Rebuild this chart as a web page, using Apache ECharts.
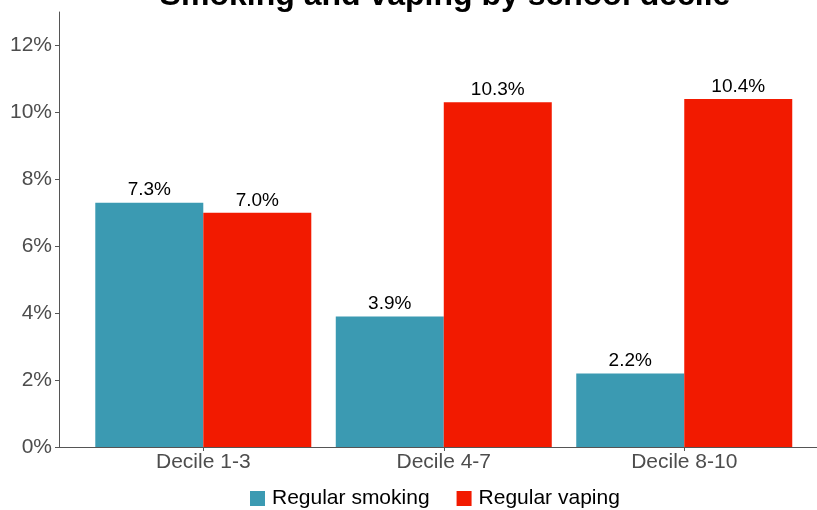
<!DOCTYPE html>
<html lang="en">
<head>
    <meta charset="UTF-8">
    <title>Smoking and vaping by school decile</title>
    <style>
        body{ margin:0; background:#fff; }
    </style>
</head>
<body>
    <div id="main" style="width: 817px;height:510px;"></div>
    <script src="https://cdn.jsdelivr.net/npm/echarts@6/dist/echarts.min.js"></script>
    <script>
    var categories = ['Decile 1-3', 'Decile 4-7', 'Decile 8-10'];
    var smoking = [7.3, 3.9, 2.2];
    var vaping = [7.0, 10.3, 10.4];
    var yTicks = [0, 2, 4, 6, 8, 10, 12];
    var catPos = [1, 2, 3];

    var myChart = echarts.init(document.getElementById('main'));
    var font = 'Liberation Sans, Arial, sans-serif';

    function pairs(vals){
        return vals.map(function(v, i){ return [catPos[i], v]; });
    }

    var labelStyle = {
        show: true,
        position: 'top',
        distance: 3,
        color: '#000',
        fontSize: 19,
        fontFamily: font,
        formatter: function(p){ return p.value[1].toFixed(1) + '%'; }
    };

    option = {
        animation: false,
        title: {
            text: 'Smoking and vaping by school decile',
            left: 440,
            textAlign: 'center',
            top: -25,
            textStyle: { fontSize: 32, fontWeight: 'bold', color: '#000', fontFamily: font }
        },
        legend: {
            data: ['Regular smoking', 'Regular vaping'],
            bottom: 1,
            left: 250,
            padding: 0,
            icon: 'rect',
            itemWidth: 15,
            itemHeight: 15,
            itemGap: 27,
            textStyle: { fontSize: 21, color: '#000', fontFamily: font, padding: [0, 0, 0, 2] }
        },
        grid: { left: 59, right: 0, top: 12, bottom: 63 },
        xAxis: {
            type: 'value',
            // ggplot-style 0.6 padding on the left; right side is cut off by the canvas edge
            min: 0.4,
            max: 3.552,
            splitLine: { show: false },
            axisLine: { show: true, lineStyle: { color: '#555', width: 1 } },
            axisTick: { show: true, length: 4, customValues: catPos, lineStyle: { color: '#555' } },
            axisLabel: {
                customValues: catPos,
                fontSize: 21,
                color: '#4d4d4d',
                fontFamily: font,
                margin: 5,
                formatter: function(v){ return categories[Math.round(v) - 1]; }
            }
        },
        yAxis: {
            type: 'value',
            min: 0,
            max: 13,
            splitLine: { show: false },
            axisLine: { show: true, lineStyle: { color: '#555', width: 1 } },
            axisTick: { show: true, length: 4, customValues: yTicks, lineStyle: { color: '#555' } },
            axisLabel: {
                customValues: yTicks,
                fontSize: 21,
                color: '#4d4d4d',
                fontFamily: font,
                margin: 7,
                formatter: '{value}%'
            }
        },
        series: [
            {
                name: 'Regular smoking',
                type: 'bar',
                barWidth: 108,
                barGap: '0%',
                itemStyle: { color: '#3B9AB2' },
                label: labelStyle,
                data: pairs(smoking)
            },
            {
                name: 'Regular vaping',
                type: 'bar',
                barWidth: 108,
                barGap: '0%',
                itemStyle: { color: '#F21A00' },
                label: labelStyle,
                data: pairs(vaping)
            }
        ]
    };
    myChart.setOption(option);
    </script>
</body>
</html>
